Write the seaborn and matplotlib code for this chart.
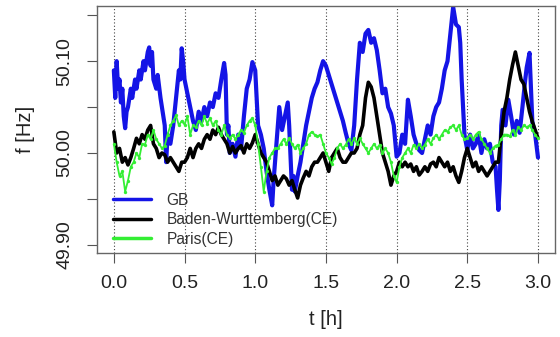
import numpy as np
import pandas as pd
import matplotlib
matplotlib.use("Agg")
import matplotlib.pyplot as plt
import seaborn as sns

# ---------------- data ----------------
t_gb = [0.00, 0.01, 0.02, 0.03, 0.04, 0.05, 0.06, 0.07, 0.08, 0.09, 0.10, 0.12, 0.13, 0.15, 0.16, 0.18,
        0.19, 0.21, 0.22, 0.24, 0.25, 0.26, 0.27, 0.28, 0.30, 0.31, 0.33, 0.35, 0.36, 0.37, 0.38, 0.40,
        0.42, 0.44, 0.46, 0.47, 0.48, 0.49, 0.50, 0.52, 0.54, 0.56, 0.58, 0.60, 0.62, 0.64, 0.66, 0.68,
        0.70, 0.72, 0.74, 0.76, 0.78, 0.79, 0.80, 0.81, 0.82, 0.84, 0.86, 0.88, 0.90, 0.92, 0.94, 0.96,
        0.98, 1.00, 1.01, 1.02, 1.04, 1.06, 1.08, 1.10, 1.12, 1.13, 1.15, 1.17, 1.19, 1.21, 1.23, 1.24,
        1.26, 1.27, 1.28, 1.30, 1.32, 1.34, 1.36, 1.38, 1.40, 1.42, 1.44, 1.46, 1.48, 1.50, 1.52, 1.54,
        1.56, 1.58, 1.60, 1.62, 1.64, 1.66, 1.68, 1.70, 1.72, 1.74, 1.76, 1.78, 1.80, 1.82, 1.84, 1.86,
        1.88, 1.90, 1.92, 1.94, 1.96, 1.98, 2.00, 2.02, 2.04, 2.06, 2.08, 2.10, 2.12, 2.14, 2.16, 2.18,
        2.20, 2.22, 2.24, 2.26, 2.28, 2.30, 2.32, 2.34, 2.36, 2.38, 2.40, 2.42, 2.44, 2.45, 2.46, 2.47,
        2.48, 2.50, 2.52, 2.54, 2.56, 2.58, 2.60, 2.62, 2.64, 2.66, 2.68, 2.70, 2.71, 2.72, 2.73, 2.74,
        2.75, 2.77, 2.79, 2.81, 2.83, 2.85, 2.87, 2.89, 2.91, 2.92, 2.94, 2.95, 2.96, 2.98, 3.00]
f_gb = [50.090, 50.060, 50.100, 50.070, 50.080, 50.055, 50.070, 50.040, 50.027, 50.045, 50.050, 50.070,
        50.060, 50.080, 50.070, 50.090, 50.080, 50.100, 50.090, 50.110, 50.115, 50.095, 50.110, 50.080,
        50.070, 50.085, 50.060, 50.040, 50.030, 49.990, 50.020, 50.010, 50.030, 50.060, 50.090, 50.080,
        50.114, 50.100, 50.080, 50.065, 50.050, 50.035, 50.025, 50.045, 50.035, 50.050, 50.040, 50.055,
        50.050, 50.065, 50.060, 50.080, 50.098, 50.085, 50.020, 50.030, 50.000, 50.010, 49.996, 50.020,
        50.005, 50.040, 50.070, 50.080, 50.099, 50.090, 50.060, 50.030, 50.020, 50.005, 49.980, 49.960,
        49.943, 49.970, 50.010, 50.050, 50.025, 50.040, 50.055, 50.030, 49.960, 49.975, 49.958, 49.975,
        49.990, 50.010, 50.030, 50.045, 50.060, 50.070, 50.077, 50.090, 50.100, 50.095, 50.085, 50.075,
        50.065, 50.055, 50.045, 50.035, 50.022, 50.010, 50.003, 50.030, 50.080, 50.120, 50.110, 50.130,
        50.134, 50.120, 50.125, 50.112, 50.090, 50.065, 50.070, 50.050, 50.043, 50.030, 49.996, 50.000,
        50.020, 50.010, 50.058, 50.040, 50.020, 50.010, 50.003, 50.000, 50.015, 50.030, 50.020, 50.040,
        50.050, 50.055, 50.070, 50.090, 50.100, 50.130, 50.159, 50.140, 50.137, 50.120, 50.080, 50.050,
        50.020, 50.003, 50.020, 50.005, 50.010, 50.020, 50.000, 50.015, 50.005, 50.010, 49.990, 49.985,
        49.960, 49.938, 49.970, 50.030, 50.047, 50.030, 50.058, 50.040, 50.020, 50.035, 50.022, 50.050,
        50.080, 50.093, 50.109, 50.070, 50.034, 50.020, 49.995]

t_ce = [0.00, 0.02, 0.04, 0.06, 0.08, 0.10, 0.12, 0.14, 0.16, 0.18, 0.20, 0.22, 0.24, 0.26, 0.28, 0.30,
        0.32, 0.34, 0.36, 0.38, 0.40, 0.42, 0.44, 0.46, 0.48, 0.50, 0.52, 0.54, 0.56, 0.58, 0.60, 0.62,
        0.64, 0.66, 0.68, 0.70, 0.72, 0.74, 0.76, 0.78, 0.80, 0.82, 0.84, 0.86, 0.88, 0.90, 0.92, 0.94,
        0.96, 0.98, 1.00, 1.02, 1.04, 1.06, 1.08, 1.10, 1.12, 1.14, 1.16, 1.18, 1.20, 1.22, 1.24, 1.26,
        1.28, 1.30, 1.32, 1.34, 1.36, 1.38, 1.40, 1.42, 1.44, 1.46, 1.48, 1.50, 1.52, 1.54, 1.56, 1.58,
        1.60, 1.62, 1.64, 1.66, 1.68, 1.70, 1.72, 1.74, 1.76, 1.78, 1.80, 1.82, 1.84, 1.86, 1.88, 1.90,
        1.92, 1.94, 1.96, 1.98, 2.00, 2.02, 2.04, 2.06, 2.08, 2.10, 2.12, 2.14, 2.16, 2.18, 2.20, 2.22,
        2.24, 2.26, 2.28, 2.30, 2.32, 2.34, 2.36, 2.38, 2.40, 2.42, 2.44, 2.46, 2.48, 2.50, 2.52, 2.54,
        2.56, 2.58, 2.60, 2.62, 2.64, 2.66, 2.68, 2.70, 2.72, 2.74, 2.76, 2.78, 2.80, 2.82, 2.84, 2.86,
        2.88, 2.90, 2.92, 2.94, 2.96, 2.98, 3.00]
f_bw = [50.023, 50.000, 50.005, 49.990, 49.995, 49.987, 49.995, 50.005, 50.016, 50.010, 50.020, 50.015,
        50.025, 50.030, 50.010, 50.005, 49.995, 50.000, 49.998, 49.990, 49.995, 49.990, 49.985, 49.980,
        49.990, 49.990, 49.995, 50.005, 49.995, 50.005, 50.010, 50.005, 50.015, 50.020, 50.015, 50.025,
        50.020, 50.028, 50.020, 50.015, 50.010, 50.000, 50.007, 50.000, 50.005, 50.008, 50.000, 50.010,
        50.005, 50.011, 50.020, 50.010, 50.000, 49.995, 49.990, 49.980, 49.970, 49.975, 49.965, 49.970,
        49.975, 49.972, 49.965, 49.970, 49.960, 49.951, 49.965, 49.973, 49.980, 49.975, 49.985, 49.990,
        49.990, 49.995, 50.000, 49.990, 49.980, 49.995, 50.000, 50.005, 49.995, 49.990, 49.990, 49.995,
        50.000, 50.000, 50.005, 50.020, 50.030, 50.060, 50.077, 50.072, 50.060, 50.040, 50.020, 50.000,
        49.990, 49.980, 49.965, 49.975, 49.980, 49.990, 49.985, 49.990, 49.985, 49.988, 49.980, 49.985,
        49.976, 49.980, 49.985, 49.980, 49.988, 49.990, 49.985, 49.995, 49.990, 49.985, 49.990, 49.980,
        49.985, 49.975, 49.968, 49.980, 49.995, 50.005, 49.995, 49.985, 49.990, 49.980, 49.985, 49.980,
        49.975, 49.980, 49.985, 49.990, 49.990, 50.020, 50.045, 50.060, 50.080, 50.096, 50.110, 50.095,
        50.080, 50.075, 50.060, 50.045, 50.034, 50.025, 50.016]
f_paris = [50.010, 49.990, 49.975, 49.980, 49.958, 49.970, 49.985, 49.990, 50.000, 49.995, 50.010, 50.009,
           50.020, 50.015, 50.025, 50.015, 50.010, 50.005, 50.008, 50.020, 50.030, 50.035, 50.041, 50.030,
           50.035, 50.031, 50.040, 50.020, 50.030, 50.028, 50.035, 50.030, 50.040, 50.032, 50.038, 50.030,
           50.035, 50.025, 50.020, 50.030, 50.020, 50.016, 50.020, 50.015, 50.020, 50.025, 50.022, 50.030,
           50.035, 50.038, 50.030, 50.010, 49.985, 49.958, 49.980, 49.995, 50.000, 50.005, 50.005, 50.010,
           50.015, 50.010, 50.016, 50.010, 50.005, 50.009, 50.000, 50.005, 50.010, 50.020, 50.023, 50.020,
           50.018, 50.020, 50.010, 50.000, 49.995, 49.988, 49.995, 50.005, 50.010, 50.005, 50.009, 50.015,
           50.010, 50.016, 50.010, 50.016, 50.010, 50.005, 50.000, 50.005, 50.010, 50.005, 50.009, 50.000,
           50.005, 50.000, 49.990, 49.975, 49.968, 49.985, 49.995, 50.000, 50.005, 50.000, 50.009, 50.005,
           50.010, 50.005, 50.009, 50.015, 50.010, 50.016, 50.020, 50.015, 50.020, 50.025, 50.023, 50.028,
           50.030, 50.025, 50.030, 50.020, 50.015, 50.016, 50.020, 50.015, 50.020, 50.023, 50.015, 50.010,
           50.005, 50.000, 50.005, 50.008, 50.009, 50.015, 50.020, 50.020, 50.018, 50.025, 50.020, 50.028,
           50.025, 50.030, 50.028, 50.030, 50.025, 50.020, 50.016]

series_names = ["GB", "Baden-Wurttemberg(CE)", "Paris(CE)"]
series_colors = ["#1414e6", "#000000", "#33ee33"]
x_ticks = [0.0, 0.5, 1.0, 1.5, 2.0, 2.5, 3.0]
y_ticks = [49.90, 49.95, 50.00, 50.05, 50.10, 50.15]
y_tick_labels = ["49.90", "", "50.00", "", "50.10", ""]

df_gb = pd.DataFrame({"t": t_gb, "f": f_gb, "s": series_names[0]})
df_bw = pd.DataFrame({"t": t_ce, "f": f_bw, "s": series_names[1]})
df_pa = pd.DataFrame({"t": t_ce, "f": f_paris, "s": series_names[2]})

# ---------------- plot ----------------
sns.set_style("ticks")
plt.rcParams["font.family"] = ["Liberation Sans", "DejaVu Sans"]

fig = plt.figure(figsize=(5.6, 3.37), dpi=100)
ax = fig.add_axes([0.173, 0.249, 0.818, 0.733])

for xt in x_ticks:
    ax.axvline(xt, color="#444444", lw=0.8, ls=(0, (1, 2)), zorder=1)

sns.lineplot(data=df_gb, x="t", y="f", color=series_colors[0], lw=3.0, ax=ax,
             label=series_names[0], zorder=2, estimator=None, sort=False)
sns.lineplot(data=df_bw, x="t", y="f", color=series_colors[1], lw=2.6, ax=ax,
             label=series_names[1], zorder=3, estimator=None, sort=False)
sns.lineplot(data=df_pa, x="t", y="f", color=series_colors[2], lw=1.3, ax=ax,
             label=series_names[2], zorder=4, estimator=None, sort=False,
             marker="o", markersize=2.4, markeredgewidth=0)

ax.set_xlim(-0.12, 3.12)
ax.set_ylim(49.891, 50.160)
ax.set_xticks(x_ticks)
ax.set_xticklabels([f"{v:.1f}" for v in x_ticks], fontsize=14, color="#222222")
ax.set_yticks(y_ticks)
ax.set_yticklabels(y_tick_labels, fontsize=14, color="#222222", rotation=90, va="center")
ax.tick_params(axis="both", direction="out", length=7, width=0.8, color="#555555")
ax.tick_params(axis="x", pad=9)
ax.tick_params(axis="y", pad=10)
ax.set_xlabel("t [h]", fontsize=14.5, color="#222222", labelpad=13)
ax.set_ylabel("f [Hz]", fontsize=14.5, color="#222222", labelpad=15)
for sp in ax.spines.values():
    sp.set_visible(True)
    sp.set_color("#666666")
    sp.set_linewidth(1.0)

leg = ax.legend(loc="lower left", bbox_to_anchor=(0.022, 0.0), frameon=False, fontsize=11.2,
                handlelength=2.4, handletextpad=1.0, labelspacing=0.28, borderaxespad=0.02)
for line in leg.get_lines():
    line.set_linewidth(2.5)
    line.set_marker("")
for txt in leg.get_texts():
    txt.set_color("#333333")

fig.savefig("out.png", dpi=100)
